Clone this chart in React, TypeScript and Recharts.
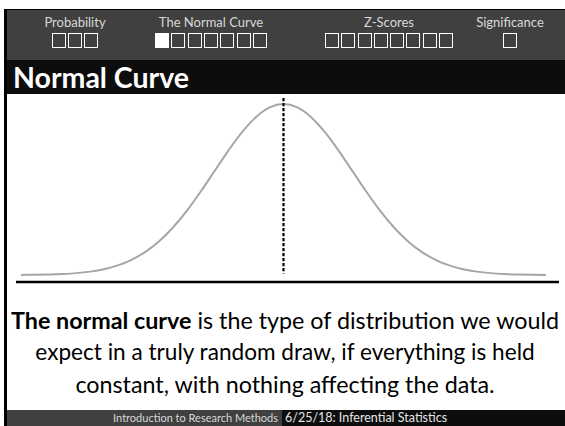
import { LineChart, Line, XAxis, YAxis, ReferenceLine } from 'recharts';

// standard scores along the curve
const zScores = [
  -3.8, -3.6, -3.4, -3.2, -3.0, -2.8, -2.6, -2.4, -2.2, -2.0, -1.8, -1.6, -1.4,
  -1.2, -1.0, -0.8, -0.6, -0.4, -0.2, 0, 0.2, 0.4, 0.6, 0.8, 1.0, 1.2, 1.4, 1.6,
  1.8, 2.0, 2.2, 2.4, 2.6, 2.8, 3.0, 3.2, 3.4, 3.6, 3.8,
];
// height of the curve at each score
const density = [
  0.0003, 0.0006, 0.0012, 0.0024, 0.0044, 0.0079, 0.0136, 0.0224, 0.0355, 0.054,
  0.079, 0.1109, 0.1497, 0.1942, 0.242, 0.2897, 0.3332, 0.3683, 0.391, 0.3989,
  0.391, 0.3683, 0.3332, 0.2897, 0.242, 0.1942, 0.1497, 0.1109, 0.079, 0.054,
  0.0355, 0.0224, 0.0136, 0.0079, 0.0044, 0.0024, 0.0012, 0.0006, 0.0003,
];
const meanZ = 0;

const navSections = ['Probability', 'The Normal Curve', 'Z-Scores', 'Significance'];
const navSlideCounts = [3, 7, 8, 1];
const navActiveSlide = [-1, 0, -1, -1];
const slideTitle = 'Normal Curve';
const captionBold = 'The normal curve';
const captionLines = [
  ' is the type of distribution we would',
  'expect in a truly random draw, if everything is held',
  'constant, with nothing affecting the data.',
];
const footerCourse = 'Introduction to Research Methods';
const footerLecture = '6/25/18: Inferential Statistics';

const navCenters = [75, 211, 389, 510];
const FONT = 'Lato, "Noto Sans", sans-serif';

export default function App() {
  const data = zScores.map((z, i) => ({ z, p: density[i] }));

  return (
    <div
      style={{
        position: 'absolute',
        left: 0,
        top: 0,
        width: 565,
        height: 426,
        background: '#fff',
        overflow: 'hidden',
        fontFamily: FONT,
      }}
    >
      {/* frame */}
      <div style={{ position: 'absolute', left: 4, top: 9, width: 3, height: 417, background: '#000' }} />
      <div style={{ position: 'absolute', left: 4, top: 9, width: 561, height: 1, background: '#000' }} />

      {/* section nav */}
      <div style={{ position: 'absolute', left: 7, top: 10, width: 558, height: 50, background: '#404040' }} />
      {navSections.map((name, s) => {
        const count = navSlideCounts[s];
        const step = 16.3;
        const w = count * step - 2.3;
        return (
          <div key={name}>
            <div
              style={{
                position: 'absolute',
                left: navCenters[s] - 60,
                width: 120,
                top: 14,
                textAlign: 'center',
                color: '#d9d9d9',
                fontSize: 13,
                lineHeight: '16px',
              }}
            >
              {name}
            </div>
            {Array.from({ length: count }).map((_, k) => (
              <div
                key={k}
                style={{
                  position: 'absolute',
                  left: navCenters[s] - w / 2 + k * step,
                  top: 33,
                  width: 14,
                  height: 15,
                  boxSizing: 'border-box',
                  border: '1.7px solid #fff',
                  background: navActiveSlide[s] === k ? '#fff' : 'transparent',
                }}
              />
            ))}
          </div>
        );
      })}

      {/* title bar */}
      <div
        style={{
          position: 'absolute',
          left: 7,
          top: 60,
          width: 558,
          height: 34,
          background: '#0d0d0d',
          color: '#fff',
          fontWeight: 700,
          fontSize: 28.5,
          lineHeight: '34px',
          paddingLeft: 6,
          boxSizing: 'border-box',
        }}
      >
        {slideTitle}
      </div>

      {/* chart */}
      <div style={{ position: 'absolute', left: 0, top: 94 }}>
        <LineChart width={565} height={192} data={data} margin={{ top: 2, right: 6, bottom: 3, left: 16 }}>
          <XAxis
            dataKey="z"
            type="number"
            domain={[-3.872, 3.988]}
            allowDataOverflow
            tick={false}
            tickLine={false}
            height={1}
            axisLine={{ stroke: '#000', strokeWidth: 2.5 }}
          />
          <YAxis hide domain={[-0.0163, 0.4176]} allowDataOverflow />
          <Line
            type="monotone"
            dataKey="p"
            stroke="#a6a6a6"
            strokeWidth={2}
            dot={false}
            isAnimationActive={false}
          />
          <ReferenceLine
            segment={[
              { x: meanZ, y: 0.4129 },
              { x: meanZ, y: 0.0035 },
            ]}
            stroke="#000"
            strokeWidth={2.2}
            strokeDasharray="3.2 1.8"
            ifOverflow="visible"
          />
        </LineChart>
      </div>

      {/* caption */}
      {captionLines.map((line, i) => (
        <div
          key={i}
          style={{
            position: 'absolute',
            left: 7,
            width: 556,
            top: 304 + i * 32,
            height: 32,
            lineHeight: '32px',
            textAlign: 'center',
            fontSize: i === 1 ? 22.6 : 23.3,
            color: '#000',
            whiteSpace: 'nowrap',
          }}
        >
          {i === 0 && <b>{captionBold}</b>}
          {line}
        </div>
      ))}

      {/* footer */}
      <div style={{ position: 'absolute', left: 7, top: 410, width: 275, height: 16, background: '#404040' }} />
      <div style={{ position: 'absolute', left: 282, top: 410, width: 283, height: 16, background: '#0d0d0d' }} />
      <div
        style={{
          position: 'absolute',
          left: 7,
          width: 271,
          top: 410,
          textAlign: 'right',
          color: '#d9d9d9',
          fontSize: 11,
          lineHeight: '16px',
          whiteSpace: 'nowrap',
        }}
      >
        {footerCourse}
      </div>
      <div
        style={{
          position: 'absolute',
          left: 285,
          top: 410,
          color: '#e6e6e6',
          fontSize: 12.5,
          lineHeight: '16px',
          whiteSpace: 'nowrap',
        }}
      >
        {footerLecture}
      </div>
    </div>
  );
}
